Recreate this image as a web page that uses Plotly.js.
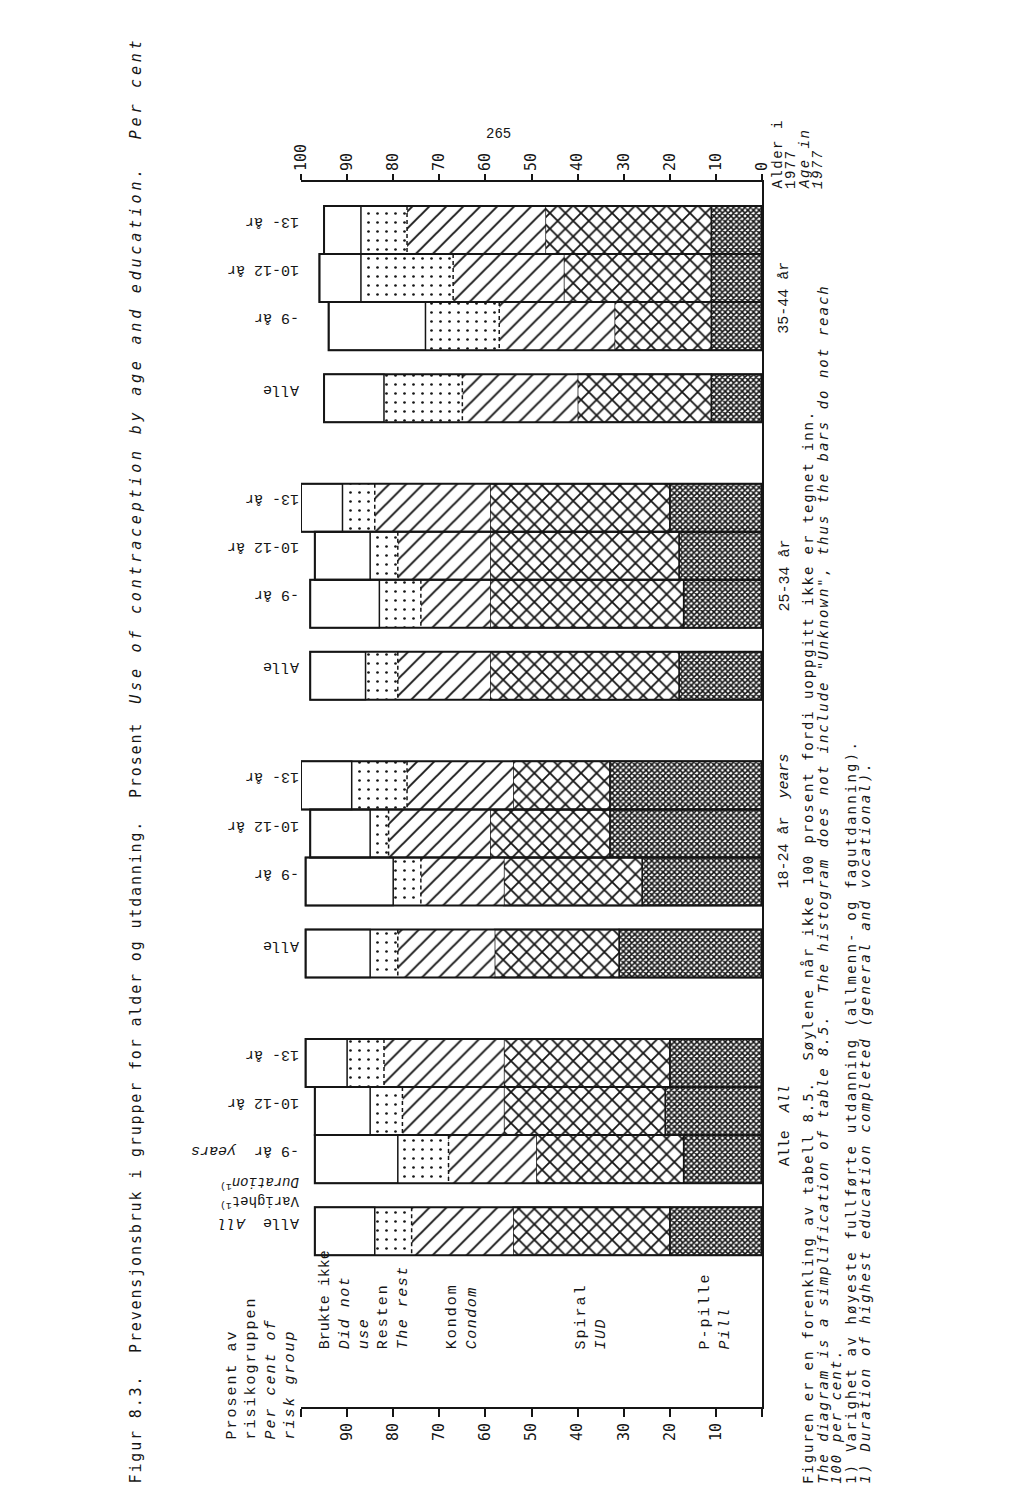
<!DOCTYPE html>
<html><head><meta charset="utf-8">
<script src="https://cdn.plot.ly/plotly-3.0.1.min.js"></script>
<style>html,body{margin:0;padding:0;background:#fff}</style>
</head><body><div id="chart" style="width:1024px;height:1509px"></div>
<script>
// ---------------- data ----------------
const groups = ['Alle', '18-24 år', '25-34 år', '35-44 år'];
const groupLabels = ['Alle\u00a0\u00a0<i>All</i>', '18-24 år\u00a0\u00a0<i>years</i>', '25-34 år', '35-44 år'];
const durations = ['Alle', '-9 år', '10-12 år', '13- år'];
const durationLabelsFirstGroup = ['Alle\u00a0\u00a0<i>All</i>', '-9 år\u00a0\u00a0<i>years</i>', '10-12 år', '13- år'];
const seriesLabels = ['P-pille<br><i>Pill</i>', 'Spiral<br><i>IUD</i>', 'Kondom<br><i>Condom</i>', 'Resten<br><i>The rest</i>', 'Brukte ikke<br><i>Did not</i><br><i>use</i>'];
// order: group (Alle, 18-24, 25-34, 35-44) x duration (Alle, -9, 10-12, 13-)
const pPille     = [20, 17, 21, 20,  31, 26, 33, 33,  18, 17, 18, 20,  11, 11, 11, 11];
const spiral     = [34, 32, 35, 36,  27, 30, 26, 21,  41, 42, 41, 39,  29, 21, 32, 36];
const kondom     = [22, 19, 22, 26,  21, 18, 22, 23,  20, 15, 20, 25,  25, 25, 24, 30];
const resten     = [ 8, 11,  7,  8,   6,  6,  4, 12,   7,  9,  6,  7,  17, 16, 20, 10];
const bruktIkke  = [13, 18, 12,  9,  14, 19, 13, 11,  12, 15, 12,  9,  13, 21,  9,  8];
const xTicks = [0, 10, 20, 30, 40, 50, 60, 70, 80, 90, 100];
const xLabelTicks = [10, 20, 30, 40, 50, 60, 70, 80, 90];

// ---------------- layout helpers ----------------
const W = 1024, H = 1509;
const INK = '#151515';
const MONO = 'Liberation Mono, DejaVu Sans Mono, monospace';
const TYPE = 'DejaVu Sans Mono, Liberation Mono, monospace';
const GROUP_STEP = 5.78;
const SUB_OFFSET = [3.5, 2, 1, 0];
function slotY(g, s) { return 1 + (groups.length - 1 - g) * GROUP_STEP + SUB_OFFSET[s]; }
function px(x) { return x / W; }
function py(y) { return 1 - y / H; }
function ls(t, sp) { return '<span style="letter-spacing:' + sp + 'px">' + t + '</span>'; }

const yPos = [], base1 = [], base2 = [], base3 = [], base4 = [], total = [];
for (let g = 0; g < groups.length; g++) {
  for (let s = 0; s < durations.length; s++) {
    const i = g * durations.length + s;
    yPos.push(slotY(g, s));
    base1.push(pPille[i]);
    base2.push(pPille[i] + spiral[i]);
    base3.push(pPille[i] + spiral[i] + kondom[i]);
    base4.push(pPille[i] + spiral[i] + kondom[i] + resten[i]);
    total.push(pPille[i] + spiral[i] + kondom[i] + resten[i] + bruktIkke[i]);
  }
}

function barTrace(vals, bases, pattern, lineW) {
  return {
    type: 'bar', orientation: 'h', y: yPos, x: vals, base: bases, width: 1,
    marker: { color: 'white', pattern: pattern, line: { color: INK, width: lineW } },
    hoverinfo: 'skip', showlegend: false
  };
}
const zeros = yPos.map(() => 0);
const traces = [
  barTrace(pPille, zeros, { shape: 'x', size: 4, solidity: 0.62, fgcolor: INK, bgcolor: 'white', fillmode: 'replace' }, 1.5),
  barTrace(spiral, base1, { shape: 'x', size: 11, solidity: 0.3, fgcolor: INK, bgcolor: 'white', fillmode: 'replace' }, 1.5),
  barTrace(kondom, base2, { shape: '/', size: 12, solidity: 0.16, fgcolor: INK, bgcolor: 'white', fillmode: 'replace' }, 0),
  barTrace(resten, base3, { shape: '.', size: 9, solidity: 0.07, fgcolor: INK, bgcolor: 'white', fillmode: 'replace' }, 0),
  barTrace(bruktIkke, base4, { shape: '' }, 1.5),
  { type: 'bar', orientation: 'h', y: yPos, x: total, base: zeros, width: 1,
    marker: { color: 'rgba(0,0,0,0)', line: { color: INK, width: 2 } }, hoverinfo: 'skip', showlegend: false }
];
// dashed boundary between Kondom and Resten
const dx = [], dy = [];
for (let i = 0; i < yPos.length; i++) {
  dx.push(base3[i], base3[i], null);
  dy.push(yPos[i] - 0.5, yPos[i] + 0.5, null);
}
traces.push({ type: 'scatter', mode: 'lines', x: dx, y: dy, line: { color: INK, width: 1.5, dash: '4px,3px' }, hoverinfo: 'skip', showlegend: false });
traces.push({ type: 'scatter', mode: 'lines', x: [null], y: [null], xaxis: 'x2', yaxis: 'y', hoverinfo: 'skip', showlegend: false });

// ---------------- annotations ----------------
const ann = [];
function rotAnn(text, x, y, size, family, extra) {
  return Object.assign({ text: text, xref: 'paper', yref: 'paper', x: px(x), y: py(y), textangle: -90,
    xanchor: 'center', yanchor: 'bottom', align: 'left', showarrow: false,
    font: { family: family || MONO, size: size || 15, color: INK } }, extra || {});
}
// title
ann.push(rotAnn(ls('Figur 8.3.\u00a0\u00a0Prevensjonsbruk i grupper for alder og utdanning.\u00a0\u00a0Prosent', 1.85) +
  '\u00a0\u00a0<i>' + ls('Use of contraception by age and education.\u00a0\u00a0Per cent', 3.8) + '</i>', 135, 1486, 15, TYPE));
// page number
ann.push({ text: '265', xref: 'paper', yref: 'paper', x: px(498), y: py(134), xanchor: 'center', yanchor: 'middle',
  showarrow: false, font: { family: MONO, size: 14, color: INK } });
// footnotes
const foot = [
  [ls('Figuren er en forenkling av tabell 8.5.\u00a0\u00a0Søylene når ikke 100 prosent fordi uoppgitt ikke er tegnet inn.', 1.9), 808],
  ['<i>' + ls('The diagram is a simplification of table 8.5.\u00a0\u00a0The histogram does not include "Unknown", thus the bars do not reach', 2.0) + '</i>', 822],
  ['<i>' + ls('100 per cent.', 2.0) + '</i>', 836],
  [ls('1) Varighet av høyeste fullførte utdanning (allmenn- og fagutdanning).', 2.2), 851],
  ['<i>' + ls('1) Duration of highest education completed (general and vocational).', 2.2) + '</i>', 864]
];
foot.forEach(f => ann.push(rotAnn(f[0], f[1], 1486, 14, TYPE)));
// Alder i 1977
[['Alder i', 778, false], ['1977', 791, false], ['Age in', 805, true], ['1977', 818, true]].forEach(a => {
  const t = ls(a[0], 1.5);
  ann.push(rotAnn(a[2] ? '<i>' + t + '</i>' : t, a[1], 191, 14, MONO));
});
// axis title
ann.push(rotAnn(ls('Prosent av', 2) + '<br>' + ls('risikogruppen', 2) + '<br><i>' + ls('Per cent of', 2) + '</i><br><i>' + ls('risk group', 2) + '</i>',
  261, 1442, 15, MONO));
// legend labels at the middle of each segment of the first bar
const segStarts = [0, base1[0], base2[0], base3[0], base4[0]];
const segVals = [pPille[0], spiral[0], kondom[0], resten[0], bruktIkke[0]];
seriesLabels.forEach((lab, k) => {
  const parts = lab.split('<br>').map((p, j) => {
    const sp = (k === 4 && j === 0) ? 0 : 2;
    return p.startsWith('<i>') ? '<i>' + ls(p.replace(/<\/?i>/g, ''), 1.5) + '</i>' : ls(p, sp);
  });
  ann.push({ text: parts.join('<br>'), xref: 'x', yref: 'paper', x: segStarts[k] + segVals[k] / 2, y: py(1351),
    textangle: -90, xanchor: 'center', yanchor: 'bottom', align: 'left', showarrow: false,
    font: { family: MONO, size: 15, color: INK } });
});
// group labels (right of the base line)
groupLabels.forEach((lab, g) => {
  ann.push({ text: lab, xref: 'paper', yref: 'y', x: px(785), y: slotY(g, 1) + 0.2, textangle: -90,
    xanchor: 'center', yanchor: 'bottom', align: 'left', showarrow: false, font: { family: MONO, size: 15, color: INK } });
});
// bar labels (upside down, left of the bars)
for (let g = 0; g < groups.length; g++) {
  for (let s = 0; s < durations.length; s++) {
    const lab = g === 0 ? durationLabelsFirstGroup[s] : durations[s];
    ann.push({ text: lab, xref: 'paper', yref: 'y', x: px(301), y: slotY(g, s) - 0.18, textangle: 180,
      xanchor: 'right', yanchor: 'middle', align: 'left', showarrow: false, font: { family: MONO, size: 15, color: INK } });
  }
}
ann.push({ text: 'Varighet<sup>1)</sup><br><i>Duration</i><sup>1)</sup>', xref: 'paper', yref: 'y', x: px(301),
  y: slotY(0, 1) + 0.7, textangle: 180, xanchor: 'right', yanchor: 'middle', align: 'left', showarrow: false,
  font: { family: MONO, size: 14, color: INK } });

// ---------------- layout ----------------
const tickFont = { family: TYPE, size: 15, color: INK };
const layout = {
  width: W, height: H, margin: { l: 0, r: 0, t: 0, b: 0 },
  paper_bgcolor: 'white', plot_bgcolor: 'rgba(0,0,0,0)', barmode: 'overlay', showlegend: false,
  xaxis: { domain: [px(301), px(762)], range: [100, 0], autorange: false, anchor: 'y', side: 'bottom',
    showline: true, linecolor: INK, linewidth: 2, ticks: 'outside', ticklen: 8, tickwidth: 2, tickcolor: INK,
    tickvals: xLabelTicks, ticktext: xLabelTicks.map(String), tickangle: -90,
    minor: { tickvals: [0, 100], ticks: 'outside', ticklen: 8, tickwidth: 2, tickcolor: INK, showgrid: false },
    tickfont: tickFont, showgrid: false, zeroline: false },
  xaxis2: { overlaying: 'x', range: [100, 0], autorange: false, anchor: 'y', side: 'top',
    showline: true, linecolor: INK, linewidth: 2, ticks: 'outside', ticklen: 6, tickwidth: 2, tickcolor: INK,
    tickvals: xTicks, ticktext: xTicks.map(String), tickangle: -90, tickfont: tickFont,
    showgrid: false, zeroline: false },
  yaxis: { domain: [py(1407), py(182)], range: [25.5, 0], autorange: false, side: 'right',
    showline: true, linecolor: INK, linewidth: 2, ticks: '', showticklabels: false, showgrid: false, zeroline: false },
  annotations: ann
};
Plotly.newPlot('chart', traces, layout, { staticPlot: true, displayModeBar: false });
</script></body></html>
